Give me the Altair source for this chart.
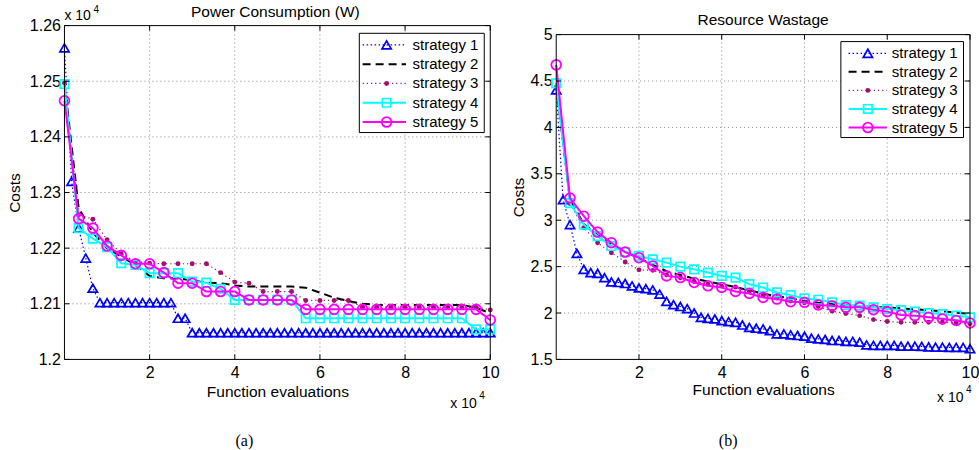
import altair as alt
import pandas as pd

FONT = "Liberation Sans"
SERIES = ["strategy 1", "strategy 2", "strategy 3", "strategy 4", "strategy 5"]

# function-evaluation counts at which the best cost was logged
EVALS_S1 = [k * 5000 / 3 for k in range(61)]    # strategy 1: every 1/60 of the budget
EVALS = [k * 10000 / 3 for k in range(31)]      # strategies 2-5: every 1/30

X_TICKS = [20000, 40000, 60000, 80000, 100000]

# ---- (a) power consumption, in units of 10^4 W ----
POWER_TICKS = [1.20, 1.21, 1.22, 1.23, 1.24, 1.25, 1.26]
power_s1 = [1.2560, 1.2320, 1.2236, 1.2182, 1.2128,
            1.2102, 1.2102, 1.2102, 1.2102, 1.2102, 1.2102, 1.2102, 1.2102, 1.2102, 1.2102, 1.2102,
            1.2074, 1.2074,
            1.2048, 1.2048, 1.2048, 1.2048, 1.2048, 1.2048, 1.2048, 1.2048, 1.2048, 1.2048,
            1.2048, 1.2048, 1.2048, 1.2048, 1.2048, 1.2048, 1.2048, 1.2048, 1.2048, 1.2048,
            1.2048, 1.2048, 1.2048, 1.2048, 1.2048, 1.2048, 1.2048, 1.2048, 1.2048, 1.2048,
            1.2048, 1.2048, 1.2048, 1.2048, 1.2048, 1.2048, 1.2048, 1.2048, 1.2048, 1.2048,
            1.2048, 1.2048, 1.2048]
power_s2 = [1.2497, 1.2272, 1.2228, 1.2200, 1.2185, 1.2170, 1.2150, 1.2146, 1.2146, 1.2142,
            1.2138, 1.2137, 1.2133, 1.2131, 1.2131, 1.2131, 1.2131, 1.2129, 1.2120, 1.2111,
            1.2105, 1.2100, 1.2098, 1.2098, 1.2098, 1.2098, 1.2098, 1.2098, 1.2098, 1.2093,
            1.2083]
power_s3 = [1.2497, 1.2260, 1.2252, 1.2215, 1.2190, 1.2176, 1.2173, 1.2172, 1.2172, 1.2172,
            1.2172, 1.2156, 1.2139, 1.2137, 1.2122, 1.2122, 1.2122, 1.2106, 1.2106, 1.2106,
            1.2106, 1.2094, 1.2094, 1.2094, 1.2094, 1.2094, 1.2094, 1.2094, 1.2094, 1.2094,
            1.2089]
power_s4 = [1.2495, 1.2236, 1.2217, 1.2202, 1.2173, 1.2170, 1.2155, 1.2155, 1.2155, 1.2140,
            1.2138, 1.2127, 1.2107, 1.2107, 1.2107, 1.2107, 1.2107, 1.2074, 1.2074, 1.2074,
            1.2074, 1.2074, 1.2074, 1.2074, 1.2074, 1.2074, 1.2074, 1.2074, 1.2074, 1.2054,
            1.2054]
power_s5 = [1.2465, 1.2253, 1.2236, 1.2204, 1.2187, 1.2172, 1.2172, 1.2156, 1.2137, 1.2137,
            1.2122, 1.2122, 1.2122, 1.2107, 1.2107, 1.2107, 1.2107, 1.2090, 1.2090, 1.2090,
            1.2090, 1.2090, 1.2090, 1.2090, 1.2090, 1.2090, 1.2090, 1.2090, 1.2090, 1.2090,
            1.2071]

# ---- (b) resource wastage ----
WASTE_TICKS = [1.5, 2.0, 2.5, 3.0, 3.5, 4.0, 4.5, 5.0]
waste_s1 = [4.405, 3.221, 2.953, 2.643, 2.471, 2.436, 2.428, 2.382, 2.336, 2.329,
            2.318, 2.293, 2.270, 2.262, 2.250, 2.203, 2.125, 2.090, 2.070, 2.047,
            2.000, 1.954, 1.943, 1.936, 1.919, 1.908, 1.900, 1.871, 1.846, 1.836,
            1.829, 1.811, 1.775, 1.775, 1.764, 1.758, 1.750, 1.729, 1.722, 1.715,
            1.704, 1.704, 1.694, 1.694, 1.686, 1.657, 1.651, 1.651, 1.651, 1.651,
            1.643, 1.643, 1.643, 1.640, 1.636, 1.633, 1.633, 1.630, 1.630, 1.630,
            1.615]
waste_s2 = [4.45, 3.22, 2.96, 2.84, 2.74, 2.66, 2.59, 2.52, 2.45, 2.41,
            2.37, 2.34, 2.31, 2.28, 2.245, 2.21, 2.18, 2.16, 2.13, 2.11,
            2.10, 2.085, 2.075, 2.065, 2.06, 2.05, 2.04, 2.03, 2.02, 2.005,
            1.99]
waste_s3 = [4.43, 3.18, 2.92, 2.757, 2.65, 2.55, 2.465, 2.46, 2.41, 2.38,
            2.34, 2.31, 2.29, 2.28, 2.23, 2.19, 2.16, 2.13, 2.11, 2.07,
            2.02, 1.995, 1.972, 1.929, 1.908, 1.90, 1.90, 1.90, 1.90, 1.895,
            1.885]
waste_s4 = [4.476, 3.185, 2.953, 2.829, 2.722, 2.657, 2.615, 2.579, 2.543, 2.500,
            2.471, 2.436, 2.400, 2.382, 2.311, 2.275, 2.222, 2.193, 2.157, 2.143,
            2.115, 2.086, 2.079, 2.061, 2.043, 2.032, 2.015, 2.000, 1.989, 1.972,
            1.954]
waste_s5 = [4.674, 3.239, 3.043, 2.872, 2.757, 2.657, 2.596, 2.507, 2.400, 2.382,
            2.329, 2.293, 2.275, 2.232, 2.211, 2.168, 2.150, 2.122, 2.115, 2.086,
            2.079, 2.061, 2.061, 2.036, 2.015, 1.979, 1.972, 1.954, 1.936, 1.919,
            1.893]

STYLE = {
    "strategy 1": dict(color="#0000FF", dash=[1.5, 2.5], width=1.2,
                       shape="triangle-up", size=85, filled=False, mw=1.7),
    "strategy 2": dict(color="#000000", dash=[8, 5], width=2.0, shape=None),
    "strategy 3": dict(color="#A0106E", dash=[1.2, 3], width=1.2,
                       shape="circle", size=24, filled=True, mw=0),
    "strategy 4": dict(color="#00FFFF", dash=None, width=2.0,
                       shape="square", size=72, filled=False, mw=1.7),
    "strategy 5": dict(color="#FF00FF", dash=None, width=2.0,
                       shape="circle", size=95, filled=False, mw=1.8),
}

ONE = pd.DataFrame({"k": [0]})


def long_table(series_values, evals_s1):
    rows = []
    for name, vals in zip(SERIES, series_values):
        xs = evals_s1 if name == "strategy 1" else EVALS
        for x, v in zip(xs, vals):
            rows.append({"series": name, "x": x, "cost": v})
    return pd.DataFrame(rows)


def line_kw(st):
    kw = dict(color=st["color"], strokeWidth=st["width"])
    if st["dash"]:
        kw["strokeDash"] = st["dash"]
    return kw


def point_kw(st):
    kw = dict(shape=st["shape"], size=st["size"], color=st["color"], opacity=1)
    if st["filled"]:
        kw["filled"] = True
    else:
        kw["filled"] = False
        kw["strokeWidth"] = st["mw"]
    return kw


def text_mark(txt, x, y, size=15.5, align="left", font=FONT):
    return alt.Chart(ONE).mark_text(
        text=txt, fontSize=size, align=align, baseline="middle", color="black", font=font
    ).encode(x=alt.value(x), y=alt.value(y))


def make_panel(df, ydom, yticks, yfmt, W, H, top, ytitle_x, xtitle_y, texts, legend):
    lo, hi = ydom
    xscale = alt.Scale(domain=[0, 100000], nice=False, zero=False)
    yscale = alt.Scale(domain=[lo, hi], range=[H, top], nice=False, zero=False)
    common = dict(grid=False, domain=False, ticks=False, labelFontSize=16, labelColor="black",
                  labelFlush=False, labelOverlap=False, labelFont=FONT,
                  titleFontSize=15.5, titleFontWeight="normal", titleColor="black", titleFont=FONT,
                  titleBaseline="middle", titleAlign="center")
    xaxis = alt.Axis(values=X_TICKS, labelExpr="datum.value / 10000", labelPadding=5,
                     titleX=W / 2, titleY=xtitle_y, **common)
    yaxis = alt.Axis(values=yticks, format=yfmt, labelPadding=4,
                     titleX=ytitle_x, titleY=(top + H) / 2, **common)

    def X(f):
        return alt.X(f, type="quantitative", scale=xscale, axis=xaxis, title="Function evaluations")

    def Y(f):
        return alt.Y(f, type="quantitative", scale=yscale, axis=yaxis, title="Costs")

    def XD(v):
        return alt.XDatum(v, type="quantitative", scale=xscale, axis=xaxis, title="Function evaluations")

    def YD(v):
        return alt.YDatum(v, type="quantitative", scale=yscale, axis=yaxis, title="Costs")

    xgrid = pd.DataFrame({"x": X_TICKS[:-1]})
    ygrid = pd.DataFrame({"cost": yticks[1:-1]})
    xtick = pd.DataFrame({"x": X_TICKS})
    ytick = pd.DataFrame({"cost": yticks})

    grid_style = dict(color="#8a8a8a", strokeDash=[1, 3], strokeWidth=1)
    layers = [
        alt.Chart(xgrid).mark_rule(**grid_style).encode(x=X("x"), y=YD(lo), y2=alt.Y2Datum(hi)),
        alt.Chart(ygrid).mark_rule(**grid_style).encode(y=Y("cost"), x=XD(0), x2=alt.X2Datum(100000)),
    ]
    for name in SERIES:
        st = STYLE[name]
        sub = df[df["series"] == name]
        layers.append(alt.Chart(sub).mark_line(**line_kw(st)).encode(x=X("x"), y=Y("cost")))
        if st["shape"]:
            layers.append(alt.Chart(sub).mark_point(**point_kw(st)).encode(x=X("x"), y=Y("cost")))

    # axes box with inward ticks on all four sides
    layers += [
        alt.Chart(ONE).mark_rect(fillOpacity=0, stroke="black", strokeWidth=1).encode(
            x=XD(0), x2=alt.X2Datum(100000), y=YD(lo), y2=alt.Y2Datum(hi)),
        alt.Chart(xtick).mark_rule(color="black").encode(x=X("x"), y=alt.value(H), y2=alt.value(H - 5)),
        alt.Chart(xtick).mark_rule(color="black").encode(x=X("x"), y=alt.value(top), y2=alt.value(top + 5)),
        alt.Chart(ytick).mark_rule(color="black").encode(y=Y("cost"), x=alt.value(0), x2=alt.value(5)),
        alt.Chart(ytick).mark_rule(color="black").encode(y=Y("cost"), x=alt.value(W - 5), x2=alt.value(W)),
    ]
    layers += texts
    plot = alt.layer(*layers)

    # legend box
    lg = legend
    ldf = pd.DataFrame({"series": SERIES, "rank": [0, 1, 2, 3, 4]})
    LY = alt.Y("rank:Q", scale=alt.Scale(domain=[0, 4], range=[lg["row0"], lg["row4"]]), axis=None)
    leg_layers = [
        alt.Chart(ONE).mark_rect(fill="white", stroke="black", strokeWidth=1).encode(
            x=alt.value(lg["box"][0]), x2=alt.value(lg["box"][2]),
            y=alt.value(lg["box"][1]), y2=alt.value(lg["box"][3]))
    ]
    for name in SERIES:
        st = STYLE[name]
        row = ldf[ldf["series"] == name]
        leg_layers.append(alt.Chart(row).mark_rule(**line_kw(st)).encode(
            x=alt.value(lg["line"][0]), x2=alt.value(lg["line"][1]), y=LY))
        if st["shape"]:
            leg_layers.append(alt.Chart(row).mark_point(**point_kw(st)).encode(
                x=alt.value(lg["marker"]), y=LY))
        leg_layers.append(alt.Chart(row).mark_text(
            align="left", baseline="middle", fontSize=15, color="black", font=FONT
        ).encode(x=alt.value(lg["text"]), y=LY, text="series:N"))
    leg = alt.layer(*leg_layers)

    return alt.layer(plot, leg).resolve_scale(x="independent", y="independent").properties(
        width=W, height=H)


power_df = long_table([power_s1, power_s2, power_s3, power_s4, power_s5], EVALS_S1)
waste_df = long_table([waste_s1, waste_s2, waste_s3, waste_s4, waste_s5], EVALS_S1)

WL, WR, H = 426, 414, 334

left = make_panel(
    power_df, (1.20, 1.26), POWER_TICKS, ".2~f", WL, H, 0, -50, 32,
    [
        text_mark("Power Consumption (W)", WL / 2 - 2, -14, align="center"),
        text_mark("x 10", 0, -10, size=14),
        text_mark("4", 29, -16, size=10),
        text_mark("x 10", WL - 40, 379, size=14),
        text_mark("4", WL - 11, 371, size=10),
        text_mark("(a)", 180, 416, size=16, align="center", font="Liberation Serif"),
    ],
    dict(box=(295, 7.7, 420, 107), row0=19.3, row4=96.5, line=(298.3, 341.7),
         marker=322.3, text=348.3),
)

right = make_panel(
    waste_df, (1.5, 5.0), WASTE_TICKS, ".1~f", WR, H, 9, -38, 30,
    [
        text_mark("Resource Wastage", WR / 2, -6, align="center"),
        text_mark("x 10", WR - 33, 373, size=14),
        text_mark("4", WR - 4, 365, size=10),
        text_mark("(b)", 172, 416, size=16, align="center", font="Liberation Serif"),
    ],
    dict(box=(284.8, 16, 407.5, 112), row0=27.7, row4=102, line=(292.5, 330.8),
         marker=311.8, text=335.8),
)

chart = alt.hconcat(left, right, spacing=66, bounds="flush").properties(
    padding={"left": 7.5, "top": 4.5, "right": 0, "bottom": 0}
).configure(font=FONT).configure_view(strokeWidth=0)

chart.save("out.html", embed_options={"renderer": "svg", "actions": False})
